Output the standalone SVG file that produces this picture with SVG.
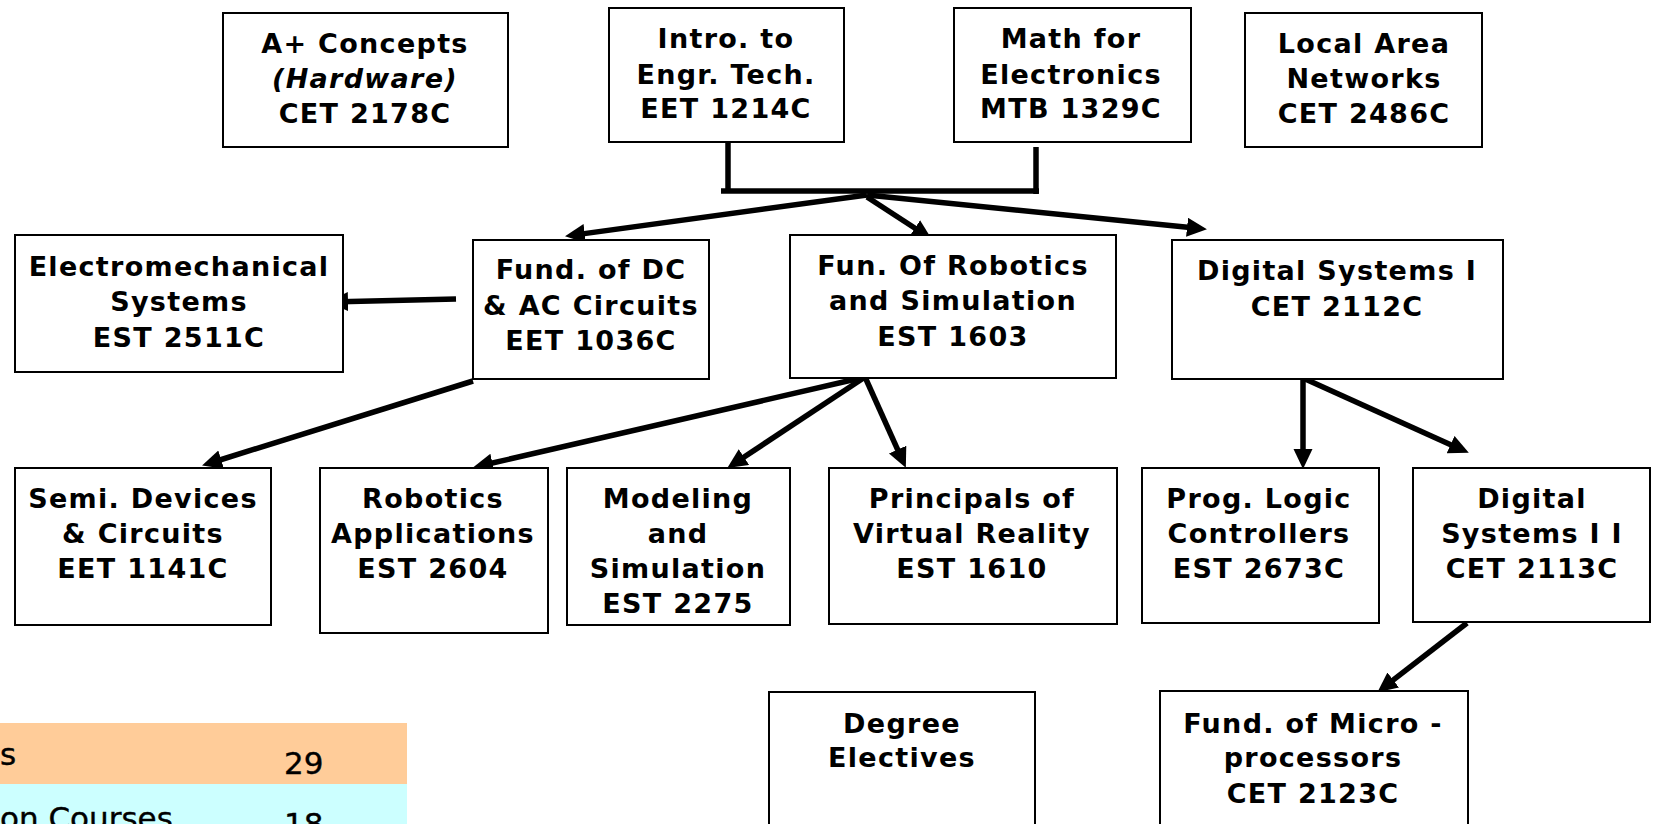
<svg xmlns="http://www.w3.org/2000/svg" width="1655" height="824" viewBox="0 0 1655 824">
<defs>
<style>
.box{fill:#fff;stroke:#000;stroke-width:2}
.t{font-family:"DejaVu Sans","Liberation Sans",sans-serif;font-weight:bold;font-size:27px;letter-spacing:1.3px;text-anchor:middle;fill:#000}
.it{font-style:italic}
.c{stroke:#000;stroke-width:5.5;fill:none}
.a{stroke:#000;stroke-width:5.5;fill:none;marker-end:url(#ah)}
.tb{font-family:"DejaVu Sans","Noto Sans",sans-serif;font-size:31px;fill:#000;stroke:#000;stroke-width:0.4}
</style>
<marker id="ah" markerUnits="userSpaceOnUse" markerWidth="22" markerHeight="22" refX="8" refY="9.5" orient="auto">
<path d="M0,0 L20,9.5 L0,19 Z" fill="#000"/>
</marker>
</defs>
<rect width="1655" height="824" fill="#fff"/>

<g id="table">
<rect x="0" y="723" width="407" height="61" fill="#FFCC99"/>
<rect x="0" y="784" width="407" height="40" fill="#CCFFFF"/>
<text class="tb" x="0" y="765">s</text>
<text class="tb" x="284" y="774">29</text>
<text class="tb" x="0" y="829">on Courses</text>
<text class="tb" x="284" y="835">18</text>
</g>

<g id="connectors">
<path class="c" d="M728,142 V191"/>
<path class="c" d="M1036,147 V194"/>
<path class="c" d="M721,191 H1039"/>
<line class="a" x1="867" y1="195" x2="576.9" y2="234.6"/>
<line class="a" x1="867" y1="197" x2="921.6" y2="232.5"/>
<line class="a" x1="867" y1="195" x2="1195" y2="228"/>
<line class="a" x1="456" y1="299" x2="340" y2="301.8"/>
<line class="a" x1="473" y1="381" x2="213.5" y2="462"/>
<line class="a" x1="865" y1="377" x2="484.7" y2="464.8"/>
<line class="a" x1="865" y1="377" x2="737.3" y2="461.5"/>
<line class="a" x1="865" y1="377" x2="900.9" y2="456.9"/>
<line class="a" x1="1303" y1="378" x2="1303" y2="457"/>
<line class="a" x1="1303" y1="378" x2="1457.9" y2="447.9"/>
<line class="a" x1="1467" y1="623" x2="1386.9" y2="684.9"/>
</g>

<g id="n-aplus">
<rect class="box" x="223" y="13" width="285" height="134"/>
<text class="t" x="365" y="53">A+ Concepts</text>
<text class="t it" x="365" y="88">(Hardware)</text>
<text class="t" x="365" y="123">CET 2178C</text>
</g>
<g id="n-intro">
<rect class="box" x="609" y="8" width="235" height="134"/>
<text class="t" x="726" y="48">Intro. to</text>
<text class="t" x="726" y="84">Engr. Tech.</text>
<text class="t" x="726" y="118">EET 1214C</text>
</g>
<g id="n-math">
<rect class="box" x="954" y="8" width="237" height="134"/>
<text class="t" x="1071" y="48">Math for</text>
<text class="t" x="1071" y="84">Electronics</text>
<text class="t" x="1071" y="118">MTB 1329C</text>
</g>
<g id="n-lan">
<rect class="box" x="1245" y="13" width="237" height="134"/>
<text class="t" x="1364" y="53">Local Area</text>
<text class="t" x="1364" y="88">Networks</text>
<text class="t" x="1364" y="123">CET 2486C</text>
</g>
<g id="n-electromech">
<rect class="box" x="15" y="235" width="328" height="137"/>
<text class="t" x="179" y="276">Electromechanical</text>
<text class="t" x="179" y="311">Systems</text>
<text class="t" x="179" y="347">EST 2511C</text>
</g>
<g id="n-funddc">
<rect class="box" x="473" y="240" width="236" height="139"/>
<text class="t" x="591" y="279">Fund. of DC</text>
<text class="t" x="591" y="315">&amp; AC Circuits</text>
<text class="t" x="591" y="350">EET 1036C</text>
</g>
<g id="n-robotics">
<rect class="box" x="790" y="235" width="326" height="143"/>
<text class="t" x="953" y="275">Fun. Of Robotics</text>
<text class="t" x="953" y="310">and Simulation</text>
<text class="t" x="953" y="346">EST 1603</text>
</g>
<g id="n-ds1">
<rect class="box" x="1172" y="240" width="331" height="139"/>
<text class="t" x="1337" y="280">Digital Systems I</text>
<text class="t" x="1337" y="316">CET 2112C</text>
</g>
<g id="n-semi">
<rect class="box" x="15" y="468" width="256" height="157"/>
<text class="t" x="143" y="508">Semi. Devices</text>
<text class="t" x="143" y="543">&amp; Circuits</text>
<text class="t" x="143" y="578">EET 1141C</text>
</g>
<g id="n-robapp">
<rect class="box" x="320" y="468" width="228" height="165"/>
<text class="t" x="433" y="508">Robotics</text>
<text class="t" x="433" y="543">Applications</text>
<text class="t" x="433" y="578">EST 2604</text>
</g>
<g id="n-modeling">
<rect class="box" x="567" y="468" width="223" height="157"/>
<text class="t" x="678" y="508">Modeling</text>
<text class="t" x="678" y="543">and</text>
<text class="t" x="678" y="578">Simulation</text>
<text class="t" x="678" y="613">EST 2275</text>
</g>
<g id="n-vr">
<rect class="box" x="829" y="468" width="288" height="156"/>
<text class="t" x="972" y="508">Principals of</text>
<text class="t" x="972" y="543">Virtual Reality</text>
<text class="t" x="972" y="578">EST 1610</text>
</g>
<g id="n-plc">
<rect class="box" x="1142" y="468" width="237" height="155"/>
<text class="t" x="1259" y="508">Prog. Logic</text>
<text class="t" x="1259" y="543">Controllers</text>
<text class="t" x="1259" y="578">EST 2673C</text>
</g>
<g id="n-ds2">
<rect class="box" x="1413" y="468" width="237" height="154"/>
<text class="t" x="1532" y="508">Digital</text>
<text class="t" x="1532" y="543">Systems I I</text>
<text class="t" x="1532" y="578">CET 2113C</text>
</g>
<g id="n-electives">
<rect class="box" x="769" y="692" width="266" height="150"/>
<text class="t" x="902" y="733">Degree</text>
<text class="t" x="902" y="767">Electives</text>
</g>
<g id="n-micro">
<rect class="box" x="1160" y="691" width="308" height="150"/>
<text class="t" x="1313" y="733">Fund. of Micro -</text>
<text class="t" x="1313" y="767">processors</text>
<text class="t" x="1313" y="803">CET 2123C</text>
</g>
</svg>
